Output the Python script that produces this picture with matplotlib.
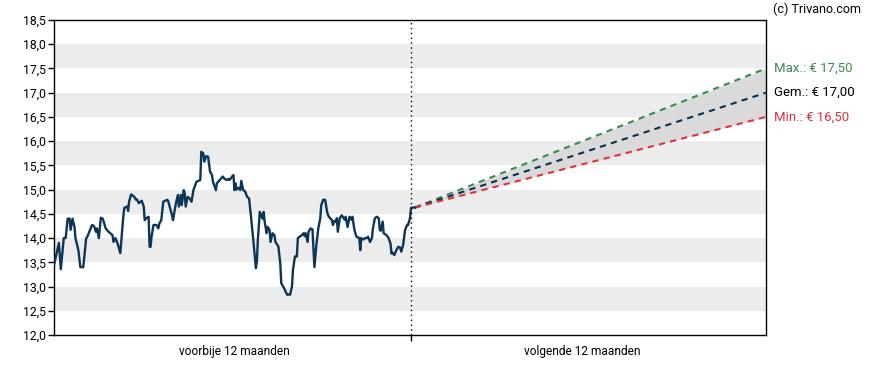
import matplotlib.pyplot as plt
from matplotlib.ticker import FuncFormatter

plt.rcParams['font.family'] = ['Roboto', 'DejaVu Sans']

# koers afgelopen 12 maanden (dag, waarde)
days = [0, 5, 7, 10, 12, 14, 16, 17, 19, 21, 22, 25, 27, 30, 33, 34, 37, 39, 41, 43,
        44, 46, 48, 50, 53, 56, 60, 61, 63, 65, 68, 71, 72, 75, 76, 77, 79, 82, 84, 85,
        87, 90, 92, 93, 94, 97, 98, 99, 100, 102, 105, 107, 108, 110, 112, 116, 117, 119, 121, 122,
        125, 127, 128, 130, 131, 133, 134, 135, 137, 139, 141, 143, 146, 150, 151, 153, 154, 156, 158, 160,
        162, 163, 166, 167, 170, 173, 175, 177, 179, 180, 183, 184, 185, 186, 187, 189, 191, 192, 194, 196,
        198, 200, 202, 204, 206, 207, 208, 209, 211, 213, 214, 215, 216, 218, 219, 221, 222, 224, 226, 227,
        230, 232, 233, 236, 239, 240, 242, 244, 245, 247, 249, 250, 252, 254, 256, 257, 258, 260, 261, 263,
        265, 267, 269, 271, 273, 274, 276, 278, 280, 281, 283, 285, 286, 287, 289, 290, 291, 293, 295, 297,
        298, 299, 301, 303, 305, 306, 308, 310, 313, 314, 315, 317, 319, 321, 322, 324, 326, 327, 329, 331,
        333, 334, 335, 337, 338, 341, 343, 345, 346, 347, 349, 351, 353, 355, 356, 358, 360, 362, 363, 365,
        366, 368, 370]
prices = [13.44, 13.9, 13.36, 14.0, 14.0, 14.4, 14.4, 14.17, 14.4, 14.23, 14.0, 13.75, 13.4, 13.4, 14.0, 14.02, 14.17, 14.27, 14.25, 14.13,
          14.2, 14.0, 14.42, 14.4, 14.2, 14.13, 14.06, 13.92, 14.0, 13.9, 13.69, 14.44, 14.62, 14.65, 14.56, 14.75, 14.9, 14.86, 14.79, 14.8,
          14.72, 14.77, 14.65, 14.37, 14.4, 14.44, 13.82, 13.82, 14.03, 14.27, 14.27, 14.2, 14.3, 14.37, 14.75, 14.79, 14.77, 14.62, 14.47, 14.37,
          14.72, 14.89, 14.65, 14.89, 14.68, 14.99, 14.93, 14.65, 14.85, 14.82, 14.75, 14.99, 15.16, 15.2, 15.78, 15.75, 15.58, 15.69, 15.68, 15.37,
          15.3, 15.16, 14.99, 15.13, 15.2, 15.27, 15.22, 15.2, 15.22, 15.2, 15.28, 15.3, 14.99, 15.13, 15.0, 15.04, 14.99, 15.18, 14.99, 14.96,
          14.85, 14.82, 14.44, 14.03, 13.58, 13.38, 13.51, 13.96, 14.54, 14.44, 14.4, 14.54, 14.34, 14.1, 14.23, 14.17, 13.92, 14.1, 14.06, 13.92,
          13.83, 13.48, 13.07, 12.96, 12.83, 12.84, 12.83, 13.0, 13.34, 13.62, 13.62, 14.0, 14.03, 14.06, 14.1, 14.04, 14.1, 13.92, 14.13, 14.2,
          14.18, 13.4, 13.86, 14.2, 14.41, 14.68, 14.79, 14.79, 14.54, 14.47, 14.41, 14.37, 14.27, 14.35, 14.33, 14.41, 14.13, 14.41, 14.47, 14.41,
          14.38, 14.44, 14.23, 14.44, 14.38, 14.44, 14.17, 14.03, 14.0, 13.75, 14.0, 13.97, 14.0, 14.0, 14.03, 13.92, 14.0, 14.2, 14.41, 14.44,
          14.41, 14.17, 14.15, 14.34, 14.1, 14.06, 14.0, 13.89, 13.68, 13.7, 13.65, 13.75, 13.82, 13.8, 13.72, 13.86, 14.17, 14.27, 14.27, 14.41,
          14.62, 14.63, 14.63]

# koersdoelen over 12 maanden
forecast_days = [370, 730]
target_max = 17.50
target_avg = 17.00
target_min = 16.50

fig = plt.figure(figsize=(8.88, 3.7), dpi=100)
ax = fig.add_axes([54 / 888, 35 / 370, 712 / 888, 315 / 370])

for lo in [12.5, 13.5, 14.5, 15.5, 16.5, 17.5]:
    ax.axhspan(lo, lo + 0.5, color='#ececec', lw=0, zorder=0)

start = prices[-1]
ax.fill_between(forecast_days, [start, target_min], [start, target_max], color='#dadada', lw=0, zorder=1)
ax.plot(forecast_days, [start, target_max], color='#3a8a50', lw=1.5, ls=(0, (3, 2.5)), zorder=2)
ax.plot(forecast_days, [start, target_avg], color='#0c2f4e', lw=1.5, ls=(0, (3, 2.5)), zorder=2)
ax.plot(forecast_days, [start, target_min], color='#e0323c', lw=1.5, ls=(0, (3, 2.5)), zorder=2)

ax.plot(days, prices, color='#0c3557', lw=1.7, zorder=3)
ax.axvline(366, color='black', lw=1, ls=(0, (1, 2.5)), zorder=4)

ax.set_xlim(0, 730)
ax.set_ylim(12.0, 18.5)
ax.set_yticks([12 + 0.5 * i for i in range(14)])
ax.yaxis.set_major_formatter(FuncFormatter(lambda v, p: f'{v:.1f}'.replace('.', ',')))
ax.set_xticks([366])
ax.set_xticklabels([])
ax.tick_params(axis='both', length=4, width=1, labelsize=8.8, colors='black', pad=2)
for s in ax.spines.values():
    s.set_linewidth(1)

ax.text(184.5, -0.032, 'voorbije 12 maanden', transform=ax.get_xaxis_transform(), ha='center', va='top', fontsize=8.6)
ax.text(542, -0.032, 'volgende 12 maanden', transform=ax.get_xaxis_transform(), ha='center', va='top', fontsize=8.6)

ax.text(738, target_max, 'Max.: € 17,50', color='#3a8a50', fontsize=9.5, va='center', ha='left', clip_on=False)
ax.text(738, target_avg, 'Gem.: € 17,00', color='black', fontsize=9.5, va='center', ha='left', clip_on=False)
ax.text(738, target_min, 'Min.: € 16,50', color='#e0323c', fontsize=9.5, va='center', ha='left', clip_on=False)

fig.text(773 / 888, 1 - 9 / 370, '(c) Trivano.com', fontsize=9, va='center', ha='left')

fig.savefig('out.png', dpi=100)
